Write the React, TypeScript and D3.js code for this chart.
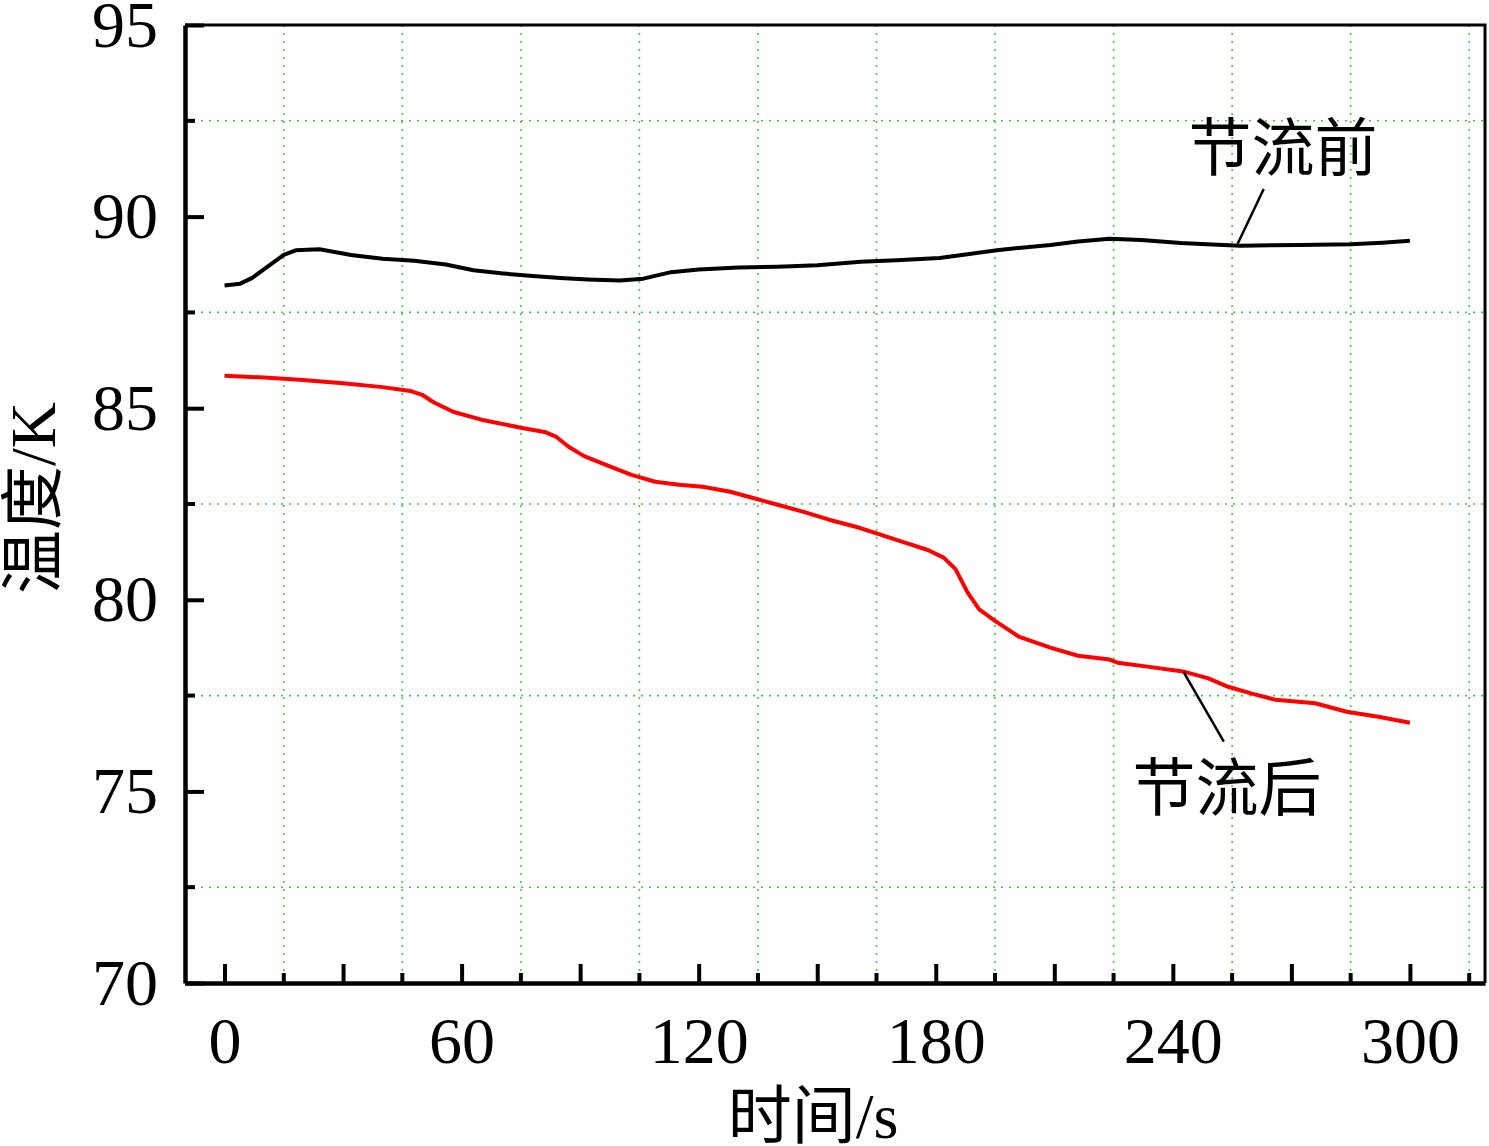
import { useEffect, useRef } from 'react'
import * as d3 from 'd3'

// time (s) and temperature (K)
const beforeTime = [0, 4, 7, 11, 15, 18, 24, 32, 40, 48, 56, 63, 70, 78, 85, 92, 100, 106, 113, 120, 130, 140, 150, 161, 170, 181, 188, 196, 209, 216, 224, 232, 242, 250, 257, 265, 272, 285, 293, 300]
const beforeTemp = [88.2, 88.25, 88.4, 88.7, 89.0, 89.12, 89.15, 89.0, 88.9, 88.85, 88.75, 88.6, 88.52, 88.45, 88.4, 88.36, 88.33, 88.38, 88.55, 88.62, 88.67, 88.69, 88.73, 88.82, 88.86, 88.92, 89.02, 89.13, 89.26, 89.35, 89.42, 89.39, 89.31, 89.27, 89.24, 89.25, 89.26, 89.28, 89.32, 89.37]

const afterTime = [0, 10, 19, 30, 40, 47, 50, 53, 58, 65, 75, 81, 84, 87, 91, 97, 103, 109, 115, 121, 128, 134, 140, 147, 153, 160, 166, 172, 178, 182, 185, 188, 191, 195, 201, 209, 216, 224, 226, 234, 243, 249, 254, 260, 266, 276, 284, 292, 300]
const afterTemp = [85.85, 85.8, 85.74, 85.65, 85.55, 85.45, 85.35, 85.15, 84.9, 84.7, 84.49, 84.38, 84.25, 84.0, 83.75, 83.5, 83.26, 83.08, 83.0, 82.95, 82.82, 82.65, 82.48, 82.28, 82.09, 81.9, 81.7, 81.5, 81.3, 81.1, 80.8, 80.2, 79.75, 79.45, 79.04, 78.75, 78.54, 78.44, 78.36, 78.25, 78.12, 77.95, 77.73, 77.55, 77.39, 77.3, 77.08, 76.95, 76.79]

const xMajorTicks = [0, 30, 60, 90, 120, 150, 180, 210, 240, 270, 300]
const xMinorTicks = [15, 45, 75, 105, 135, 165, 195, 225, 255, 285, 315]
const yMajorTicks = [70, 75, 80, 85, 90, 95]
const yMinorTicks = [72.5, 77.5, 82.5, 87.5, 92.5]

// labels with their leader lines: [text t, text T, line start t, T, line end t, T]
const labelNames = ['节流前', '节流后']
const labelAnchors = [
  [267.9, 91.82, 263, 90.72, 256.4, 89.29],
  [253.7, 75.1, 242.7, 78.12, 252.9, 76.3],
]

const W = 1489
const H = 1146
const latin = "'Liberation Serif', 'Times New Roman', serif"
const mixed = "'Liberation Serif', 'Noto Sans CJK SC', serif"

export default function App() {
  const svgRef = useRef<SVGSVGElement>(null)

  useEffect(() => {
    if (!svgRef.current) return
    const svg = d3.select(svgRef.current)
    svg.selectAll('*').remove()

    const left = 185
    const right = 1485
    const top = 25
    const bottom = 983

    const x = d3.scaleLinear().domain([-10, 319]).range([left, right])
    const y = d3.scaleLinear().domain([70, 95]).range([bottom, top])

    // dotted green grid, on the minor tick positions
    const grid = svg.append('g')
    grid
      .selectAll('line.v')
      .data(xMinorTicks)
      .join('line')
      .attr('x1', d => x(d))
      .attr('x2', d => x(d))
      .attr('y1', top)
      .attr('y2', bottom)
    grid
      .selectAll('line.h')
      .data(yMinorTicks)
      .join('line')
      .attr('x1', left)
      .attr('x2', right)
      .attr('y1', d => y(d))
      .attr('y2', d => y(d))
    grid
      .selectAll('line')
      .attr('stroke', '#3ccf3c')
      .attr('stroke-width', 1.6)
      .attr('stroke-dasharray', '2 6')

    // series
    const line = d3
      .line<[number, number]>()
      .x(d => x(d[0]))
      .y(d => y(d[1]))

    svg
      .append('path')
      .datum(beforeTime.map((t, i) => [t, beforeTemp[i]] as [number, number]))
      .attr('fill', 'none')
      .attr('stroke', '#000')
      .attr('stroke-width', 4)
      .attr('stroke-linejoin', 'round')
      .attr('d', line)

    svg
      .append('path')
      .datum(afterTime.map((t, i) => [t, afterTemp[i]] as [number, number]))
      .attr('fill', 'none')
      .attr('stroke', '#ff0000')
      .attr('stroke-width', 4)
      .attr('stroke-linejoin', 'round')
      .attr('d', line)

    // frame on top and right
    svg
      .append('path')
      .attr('d', `M${left},${top}H${right}V${bottom}`)
      .attr('fill', 'none')
      .attr('stroke', '#000')
      .attr('stroke-width', 3)

    // x axis, ticks pointing inward
    const xAxis = svg
      .append('g')
      .attr('transform', `translate(0,${bottom})`)
      .call(
        d3
          .axisBottom(x)
          .tickValues(xMajorTicks)
          .tickSizeInner(-19)
          .tickSizeOuter(0)
          .tickPadding(33)
          .tickFormat(d => (+d % 60 === 0 ? String(d) : ''))
      )
    xAxis
      .append('g')
      .selectAll('line')
      .data(xMinorTicks)
      .join('line')
      .attr('x1', d => x(d))
      .attr('x2', d => x(d))
      .attr('y1', 0)
      .attr('y2', -10)
      .attr('stroke', '#000')

    const yAxis = svg
      .append('g')
      .attr('transform', `translate(${left},0)`)
      .call(
        d3
          .axisLeft(y)
          .tickValues(yMajorTicks)
          .tickSizeInner(-19)
          .tickSizeOuter(0)
          .tickPadding(27)
          .tickFormat(d3.format('d'))
      )
    yAxis
      .append('g')
      .selectAll('line')
      .data(yMinorTicks)
      .join('line')
      .attr('x1', 0)
      .attr('x2', 10)
      .attr('y1', d => y(d))
      .attr('y2', d => y(d))
      .attr('stroke', '#000')

    svg.selectAll('.domain').attr('stroke-width', 4.5)
    svg.selectAll('.tick line').attr('stroke-width', 4)
    xAxis.selectAll('g > line').attr('stroke-width', 4)
    yAxis.selectAll('g > line').attr('stroke-width', 4)
    svg
      .selectAll('.tick text')
      .attr('font-family', latin)
      .attr('font-size', 66)
      .attr('fill', '#000')
    xAxis.selectAll('.tick text').attr('dy', '0.71em')

    // axis titles
    svg
      .append('text')
      .attr('x', 813)
      .attr('y', 1138)
      .attr('text-anchor', 'middle')
      .attr('font-family', mixed)
      .attr('font-size', 64)
      .text('时间/s')

    svg
      .append('text')
      .attr('transform', `translate(55,${(top + bottom) / 2 - 6}) rotate(-90)`)
      .attr('text-anchor', 'middle')
      .attr('font-family', mixed)
      .attr('font-size', 64)
      .text('温度/K')

    // in-plot labels with leader lines
    labelNames.forEach((name, i) => {
      const a = labelAnchors[i]
      svg
        .append('line')
        .attr('x1', x(a[2]))
        .attr('y1', y(a[3]))
        .attr('x2', x(a[4]))
        .attr('y2', y(a[5]))
        .attr('stroke', '#000')
        .attr('stroke-width', 2.5)
      svg
        .append('text')
        .attr('x', x(a[0]))
        .attr('y', y(a[1]))
        .attr('dy', '0.36em')
        .attr('text-anchor', 'middle')
        .attr('font-family', mixed)
        .attr('font-size', 63)
        .text(name)
    })
  }, [])

  return (
    <div style={{ position: 'absolute', left: 0, top: 0, width: W, height: H, background: '#fff' }}>
      <svg ref={svgRef} width={W} height={H} />
    </div>
  )
}
